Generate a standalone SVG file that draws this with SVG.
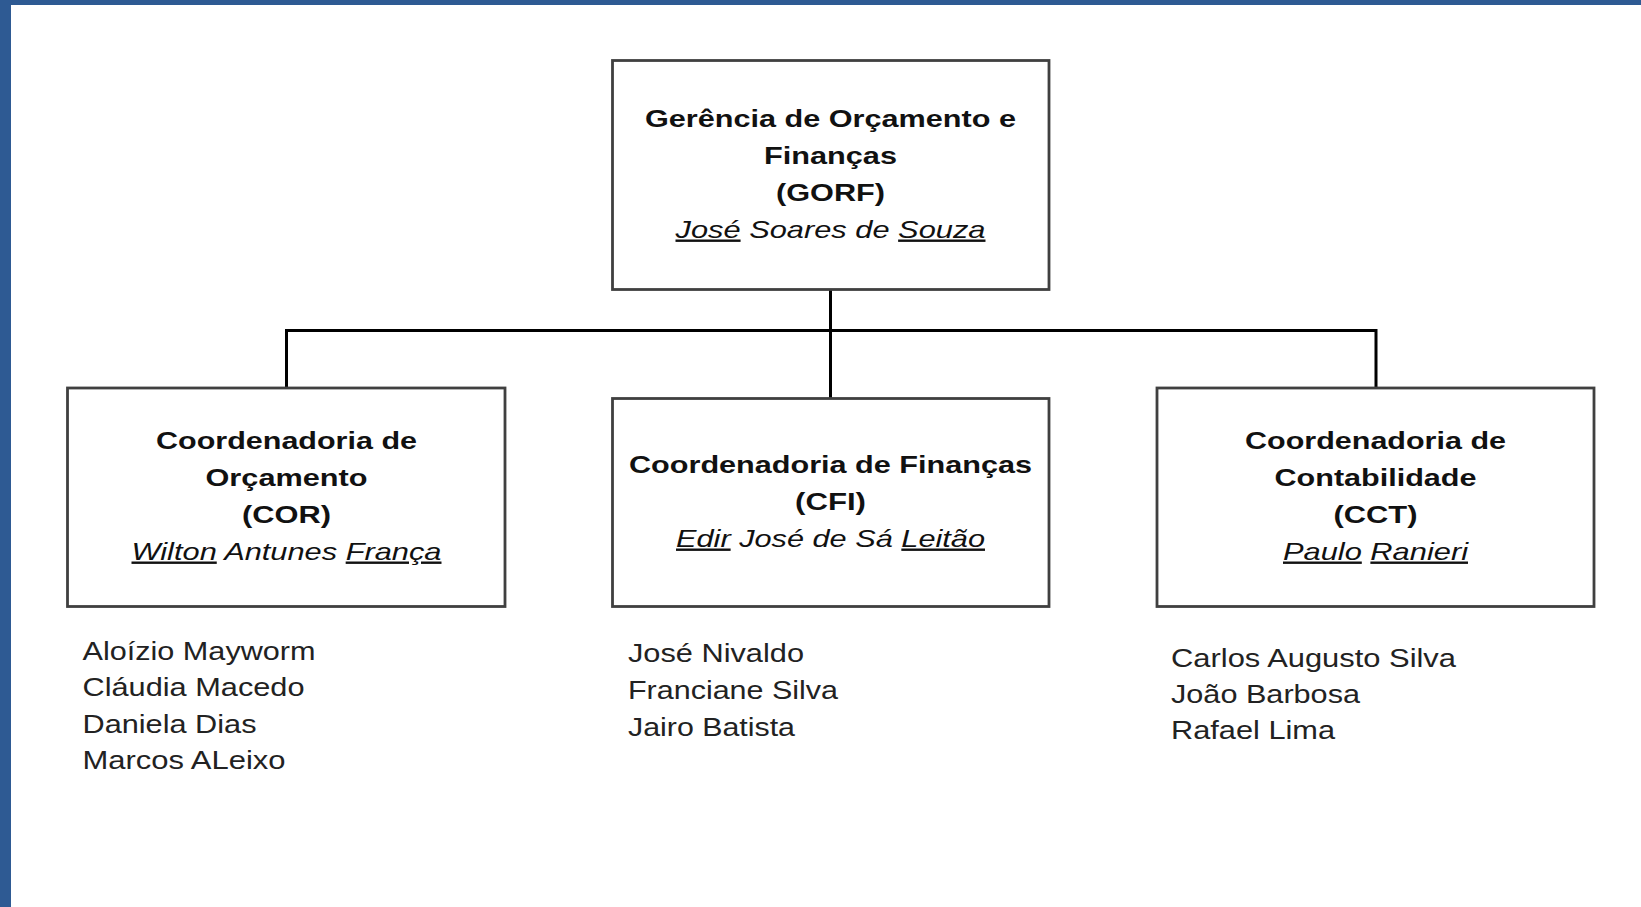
<svg xmlns="http://www.w3.org/2000/svg" width="1641" height="907" viewBox="0 0 1641 907">
<style>
.box{fill:#fff;stroke:#404040;stroke-width:2.8}
.conn{fill:none;stroke:#000;stroke-width:3}
.t{font-family:"Liberation Sans",Arial,sans-serif;font-size:24px;font-weight:bold;fill:#111;text-anchor:middle}
.n{font-family:"Liberation Sans",Arial,sans-serif;font-size:24px;font-style:italic;fill:#111;text-anchor:middle}
.u{text-decoration:underline}
.s{font-family:"Liberation Sans",Arial,sans-serif;font-size:25px;fill:#222}
</style>
<rect x="0" y="0" width="1641" height="907" fill="#fff"/>
<rect x="0" y="0" width="1641" height="5" fill="#2e5a93"/>
<rect x="0" y="0" width="11" height="907" fill="#2e5a93"/>
<g id="connectors">
<path class="conn" d="M830.5 290 V330.5 M286.5 330.5 H1376 M286.5 329 V388 M1376 329 V388 M830.5 330 V398"/>
</g>
<g id="gorf">
<rect class="box" x="612.5" y="60.5" width="436.5" height="229"/>
<text class="t" x="830.5" y="126.5" textLength="371" lengthAdjust="spacingAndGlyphs">Gerência de Orçamento e</text>
<text class="t" x="830.5" y="163.5" textLength="133" lengthAdjust="spacingAndGlyphs">Finanças</text>
<text class="t" x="830.5" y="200.5" textLength="109" lengthAdjust="spacingAndGlyphs">(GORF)</text>
<text class="n" x="830.5" y="237.5" textLength="310" lengthAdjust="spacingAndGlyphs"><tspan class="u">José</tspan> Soares de <tspan class="u">Souza</tspan></text>
</g>
<g id="cor">
<rect class="box" x="67.5" y="388" width="437.5" height="218.5"/>
<text class="t" x="286.5" y="448.5" textLength="261" lengthAdjust="spacingAndGlyphs">Coordenadoria de</text>
<text class="t" x="286.5" y="485.5" textLength="162" lengthAdjust="spacingAndGlyphs">Orçamento</text>
<text class="t" x="286.5" y="522.5" textLength="89" lengthAdjust="spacingAndGlyphs">(COR)</text>
<text class="n" x="286.5" y="559.5" textLength="310" lengthAdjust="spacingAndGlyphs"><tspan class="u">Wilton</tspan> Antunes <tspan class="u">França</tspan></text>
</g>
<g id="cfi">
<rect class="box" x="612.5" y="398.5" width="436.5" height="208"/>
<text class="t" x="830.5" y="472.5" textLength="403" lengthAdjust="spacingAndGlyphs">Coordenadoria de Finanças</text>
<text class="t" x="830.5" y="509.5" textLength="71" lengthAdjust="spacingAndGlyphs">(CFI)</text>
<text class="n" x="830.5" y="546.5" textLength="309" lengthAdjust="spacingAndGlyphs"><tspan class="u">Edir</tspan> José de Sá <tspan class="u">Leitão</tspan></text>
</g>
<g id="cct">
<rect class="box" x="1157" y="388" width="437" height="218.5"/>
<text class="t" x="1375.5" y="448.5" textLength="261" lengthAdjust="spacingAndGlyphs">Coordenadoria de</text>
<text class="t" x="1375.5" y="485.5" textLength="202" lengthAdjust="spacingAndGlyphs">Contabilidade</text>
<text class="t" x="1375.5" y="522.5" textLength="84" lengthAdjust="spacingAndGlyphs">(CCT)</text>
<text class="n" x="1375.5" y="559.5" textLength="185" lengthAdjust="spacingAndGlyphs"><tspan class="u">Paulo</tspan> <tspan class="u">Ranieri</tspan></text>
</g>
<g id="cor-staff">
<text class="s" x="82.5" y="659.5" textLength="233" lengthAdjust="spacingAndGlyphs">Aloízio Mayworm</text>
<text class="s" x="82.5" y="696" textLength="222" lengthAdjust="spacingAndGlyphs">Cláudia Macedo</text>
<text class="s" x="82.5" y="732.5" textLength="174" lengthAdjust="spacingAndGlyphs">Daniela Dias</text>
<text class="s" x="82.5" y="769" textLength="203" lengthAdjust="spacingAndGlyphs">Marcos ALeixo</text>
</g>
<g id="cfi-staff">
<text class="s" x="628" y="662" textLength="176" lengthAdjust="spacingAndGlyphs">José Nivaldo</text>
<text class="s" x="628" y="698.5" textLength="210" lengthAdjust="spacingAndGlyphs">Franciane Silva</text>
<text class="s" x="628" y="735.5" textLength="167" lengthAdjust="spacingAndGlyphs">Jairo Batista</text>
</g>
<g id="cct-staff">
<text class="s" x="1171" y="666.5" textLength="285" lengthAdjust="spacingAndGlyphs">Carlos Augusto Silva</text>
<text class="s" x="1171" y="702.5" textLength="189" lengthAdjust="spacingAndGlyphs">João Barbosa</text>
<text class="s" x="1171" y="739" textLength="164" lengthAdjust="spacingAndGlyphs">Rafael Lima</text>
</g>
</svg>
